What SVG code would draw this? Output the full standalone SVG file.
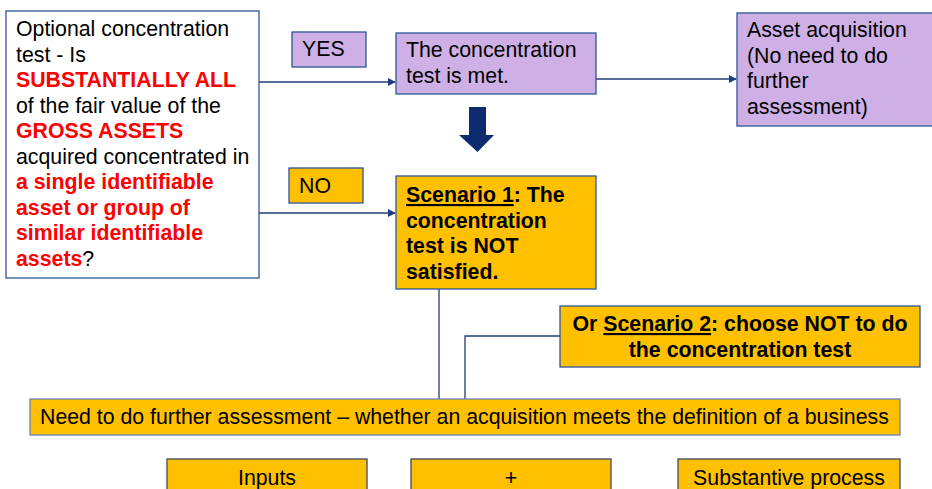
<svg xmlns="http://www.w3.org/2000/svg" width="932" height="489" viewBox="0 0 932 489">
<style>
  text { font-family: "Liberation Sans", Arial, sans-serif; font-size: 21.3px; fill: #000; }
  .b { font-weight: bold; }
  .red { fill: #ff0000; font-weight: bold; }
  .u { text-decoration: underline; }
  .box { stroke: #2f5597; stroke-width: 1.3; }
  .white { fill: #ffffff; }
  .lav { fill: #cfb0e6; }
  .org { fill: #ffc000; }
  .conn { stroke: #1f3c7c; stroke-width: 1.3; fill: none; }
  .mid { text-anchor: middle; }
</style>
<defs>
  <marker id="arr" viewBox="0 0 10 10" refX="9" refY="5" markerWidth="8" markerHeight="8" markerUnits="userSpaceOnUse" orient="auto">
    <path d="M0,0 L10,5 L0,10 z" fill="#1f3c7c"/>
  </marker>
</defs>
<rect width="932" height="489" fill="#ffffff"/>

<g id="connectors">
  <line class="conn" x1="259" y1="82" x2="395" y2="82" marker-end="url(#arr)"/>
  <line class="conn" x1="596" y1="79" x2="736" y2="79" marker-end="url(#arr)"/>
  <line class="conn" x1="259" y1="213" x2="395" y2="213" marker-end="url(#arr)"/>
  <line class="conn" x1="439" y1="289" x2="439" y2="399"/>
  <polyline class="conn" points="560,336 465,336 465,399"/>
  <polygon id="down-arrow" points="469,107 486,107 486,135 494,135 477.5,152 459,135 469,135" fill="#0d2b6e"/>
</g>

<g id="question">
  <rect class="box white" x="6" y="11" width="253" height="267"/>
  <text x="16" y="36">Optional concentration</text>
  <text x="16" y="61.5">test - Is</text>
  <text x="16" y="87" class="red">SUBSTANTIALLY ALL</text>
  <text x="16" y="112.5">of the fair value of the</text>
  <text x="16" y="138" class="red">GROSS ASSETS</text>
  <text x="16" y="163.5">acquired concentrated in</text>
  <text x="16" y="189" class="red">a single identifiable</text>
  <text x="16" y="214.5" class="red">asset or group of</text>
  <text x="16" y="240" class="red">similar identifiable</text>
  <text x="16" y="265.5"><tspan class="red">assets</tspan>?</text>
</g>

<g id="yes">
  <rect class="box lav" x="292" y="32" width="74" height="35"/>
  <text x="302" y="56">YES</text>
</g>

<g id="test-met">
  <rect class="box lav" x="396" y="33" width="200" height="61"/>
  <text x="406" y="57">The concentration</text>
  <text x="406" y="83">test is met.</text>
</g>

<g id="asset-acquisition">
  <rect class="box lav" x="737" y="13" width="200" height="113"/>
  <text x="747" y="37">Asset acquisition</text>
  <text x="747" y="62.5">(No need to do</text>
  <text x="747" y="88">further</text>
  <text x="747" y="113.5">assessment)</text>
</g>

<g id="no">
  <rect class="box org" x="289" y="168" width="74" height="35"/>
  <text x="299" y="193">NO</text>
</g>

<g id="scenario1">
  <rect class="box org" x="396" y="176" width="200" height="113"/>
  <text x="406" y="202" class="b"><tspan class="u">Scenario 1</tspan>: The</text>
  <text x="406" y="227.5" class="b">concentration</text>
  <text x="406" y="253" class="b">test is NOT</text>
  <text x="406" y="278.5" class="b">satisfied.</text>
</g>

<g id="scenario2">
  <rect class="box org" x="560" y="306" width="360" height="61"/>
  <text x="740" y="331" class="b mid">Or <tspan class="u">Scenario 2</tspan>: choose NOT to do</text>
  <text x="740" y="357" class="b mid">the concentration test</text>
</g>

<g id="further-assessment">
  <rect class="box org" x="30" y="399" width="870" height="36" style="stroke:#6f85ad"/>
  <text x="40" y="424">Need to do further assessment – whether an acquisition meets the definition of a business</text>
</g>

<g id="inputs">
  <rect class="box org" x="167" y="459" width="200" height="40" style="stroke:#3f4a5e"/>
  <text x="267" y="485" class="mid">Inputs</text>
</g>

<g id="plus">
  <rect class="box org" x="411" y="459" width="200" height="40" style="stroke:#3f4a5e"/>
  <text x="511" y="485" class="mid">+</text>
</g>

<g id="substantive-process">
  <rect class="box org" x="678" y="459" width="222" height="40" style="stroke:#3f4a5e"/>
  <text x="789" y="485" class="mid">Substantive process</text>
</g>
</svg>
